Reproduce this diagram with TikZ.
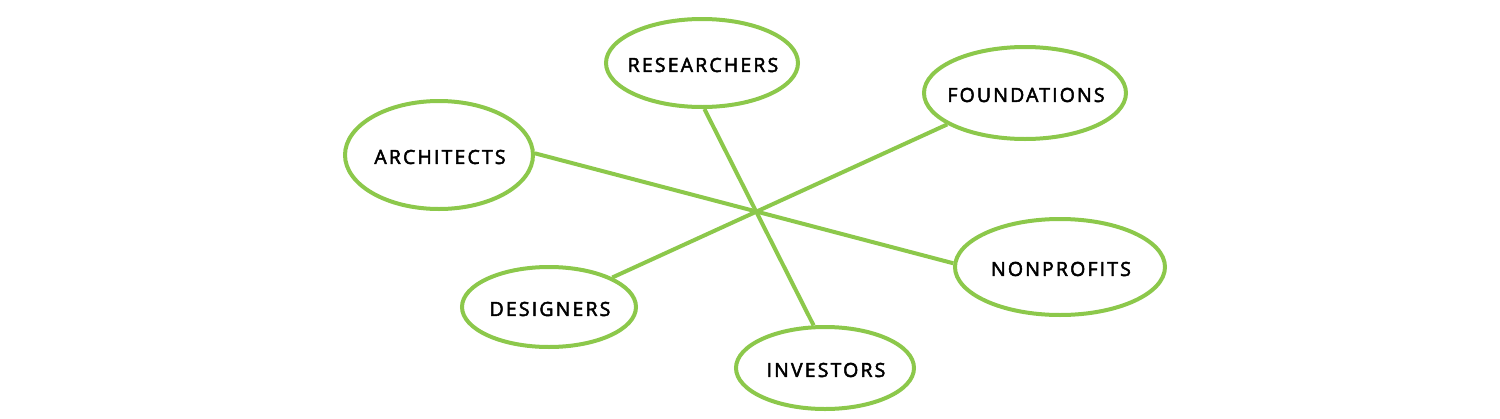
\documentclass[tikz,border=0pt]{standalone}
\usepackage{fontspec}
\newfontfamily\labfont{Open Sans}[LetterSpace=11,FakeBold=2.5]
\usetikzlibrary{shapes.geometric}
\definecolor{leaf}{HTML}{8CC84B}
\begin{document}
\begin{tikzpicture}[x=1pt,y=-1pt,
  bubble/.style={ellipse,draw=leaf,line width=4pt,fill=white,inner sep=0pt,
    label={[font=\labfont\fontsize{19.5}{21}\selectfont,text=black,yshift=-2pt,xshift=1pt]center:#1}},
  link/.style={draw=leaf,line width=4pt}]
\useasboundingbox (0,0) rectangle (1500,418);
\node[bubble=RESEARCHERS,minimum width=192pt,minimum height=88pt] (res) at (702,63) {};
\node[bubble=FOUNDATIONS,minimum width=202pt,minimum height=92pt] (fou) at (1025,93) {};
\node[bubble=ARCHITECTS,minimum width=188pt,minimum height=108pt] (arc) at (439,155) {};
\node[bubble=NONPROFITS,minimum width=210pt,minimum height=96pt] (non) at (1060,267) {};
\node[bubble=DESIGNERS,minimum width=174pt,minimum height=80pt] (des) at (549,307) {};
\node[bubble=INVESTORS,minimum width=178pt,minimum height=82pt] (inv) at (825,368) {};
\draw[link] (res.-87) -- (inv.105);
\draw[link] (arc.1) -- (non.178);
\draw[link] (fou.202) -- (des.25);
\end{tikzpicture}
\end{document}
